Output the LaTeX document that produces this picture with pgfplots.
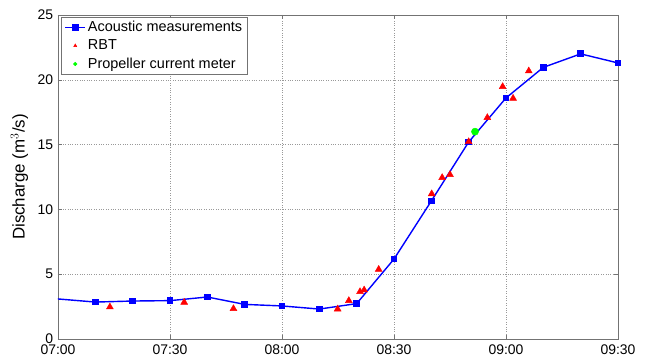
\documentclass[border=0pt]{standalone}
\usepackage{fontspec}
\setmainfont{Liberation Sans}
\usepackage{pgfplots}
\pgfplotsset{compat=1.18}
\begin{document}
\fontsize{14}{16}\selectfont
\begin{tikzpicture}
\path (-58bp,-20bp) rectangle (588bp,339bp);
\begin{axis}[
  at={(0,0)}, anchor=south west,
  scale only axis,
  width=560bp, height=324bp,
  xmin=0, xmax=150, ymin=0, ymax=25,
  xtick={0,30,60,90,120,150},
  xticklabels={07:00,07:30,08:00,08:30,09:00,09:30},
  ytick={0,5,10,15,20,25},
  /pgf/number format/assume math mode=true,
  ticklabel style={font=\fontsize{14}{16}\selectfont},
  tick align=inside,
  xtick pos=both, ytick pos=both,
  major tick length=4bp,
  axis line style={draw=black!55},
  tick style={draw=black!55},
  grid=major,
  major grid style={dotted, draw=black!40, line width=0.5bp},
  xticklabel style={yshift=-1bp},
  ylabel={Discharge (m$^3$/s)},
  ylabel style={font=\fontsize{17}{19}\selectfont, yshift=0bp},
  legend style={at={(rel axis cs:0.006,0.994)}, anchor=north west,
    draw=black!55, font=\fontsize{14.5}{16}\selectfont, row sep=2bp,
    inner xsep=3bp, inner ysep=2bp},
  legend cell align=left,
  legend image code/.code={\draw[mark repeat=2,mark phase=2,#1] plot coordinates {(0bp,0bp)(10bp,0bp)(20bp,0bp)};},
  clip=true,
]
\addplot[color=blue, line width=1.4bp, mark=square*, mark size=2.7bp, mark options={solid}]
  coordinates {
  (-10,3.33) (10,2.85) (20,2.93) (30,2.96) (40,3.24) (50,2.67) (60,2.55) (70,2.31)
  (80,2.73) (90,6.17) (100,10.65) (110,15.2) (120,18.6) (130,20.96) (140,22.0) (150,21.3)
  };
\addlegendentry{Acoustic measurements}
\addplot[only marks, color=red, mark=triangle*, mark size=4bp,
  legend image post style={mark size=1.8bp}]
  coordinates {
  (13.9,2.47) (33.8,2.83) (47,2.34) (74.9,2.31) (77.9,2.96) (80.9,3.65) (82,3.78)
  (85.9,5.37) (100.1,11.2) (102.9,12.45) (105,12.68) (110,15.22) (115,17.08)
  (119.1,19.47) (121.9,18.57) (126.1,20.68)
  };
\addlegendentry{RBT}
\addplot[only marks, color=green, mark=*, mark size=3.6bp,
  legend image post style={mark size=1.8bp}]
  coordinates {(111.7,16.0)};
\addlegendentry{Propeller current meter}
\end{axis}
\end{tikzpicture}
\end{document}
